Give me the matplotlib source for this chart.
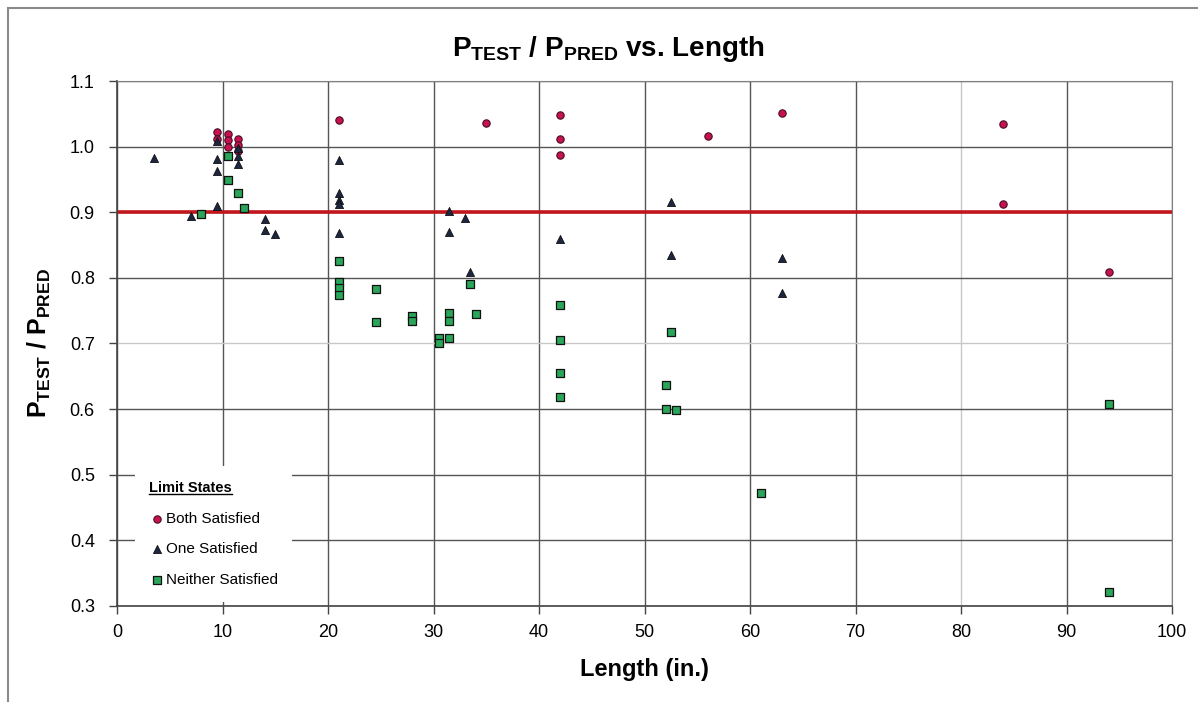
import matplotlib
matplotlib.use("Agg")
import matplotlib.pyplot as plt
from matplotlib.patches import Rectangle
from matplotlib.lines import Line2D

plt.rcParams['font.family'] = ['Liberation Sans', 'DejaVu Sans']
plt.rcParams['mathtext.fontset'] = 'custom'
plt.rcParams['mathtext.rm'] = 'Liberation Sans'
plt.rcParams['mathtext.bf'] = 'Liberation Sans:bold'

# Both limit states satisfied
both_x = [9.5, 9.5, 10.5, 10.5, 10.5, 11.5, 11.5, 11.5, 21, 35, 42, 42, 42, 56, 63, 84, 84, 94]
both_y = [1.022, 1.012, 1.020, 1.010, 1.000, 1.012, 1.003, 0.994, 1.040, 1.036,
          1.048, 1.012, 0.988, 1.016, 1.051, 1.035, 0.913, 0.809]

# One limit state satisfied
one_x = [3.5, 7.0, 9.5, 9.5, 9.5, 9.5, 11.5, 11.5, 11.5, 14, 14, 15,
         21, 21, 21, 21, 21, 31.5, 31.5, 33, 33.5, 42, 52.5, 52.5, 63, 63]
one_y = [0.982, 0.895, 1.008, 0.981, 0.963, 0.909, 0.998, 0.985, 0.974, 0.890, 0.873, 0.867,
         0.979, 0.930, 0.919, 0.913, 0.868, 0.902, 0.870, 0.891, 0.809, 0.859, 0.916, 0.835,
         0.830, 0.777]

# Neither limit state satisfied
none_x = [8.0, 10.5, 10.5, 11.5, 12.0, 21, 21, 21, 21, 24.5, 24.5, 28, 28, 30.5, 30.5,
          31.5, 31.5, 31.5, 33.5, 34, 42, 42, 42, 42, 52, 52, 52.5, 53, 61, 94, 94]
none_y = [0.897, 0.985, 0.949, 0.929, 0.907, 0.826, 0.794, 0.784, 0.774, 0.783, 0.733,
          0.742, 0.735, 0.708, 0.701, 0.747, 0.734, 0.709, 0.791, 0.745, 0.758, 0.705,
          0.655, 0.619, 0.636, 0.600, 0.718, 0.599, 0.472, 0.608, 0.322]

limit = 0.9
x_ticks = list(range(0, 101, 10))
y_ticks = [0.3, 0.4, 0.5, 0.6, 0.7, 0.8, 0.9, 1.0, 1.1]

fig = plt.figure(figsize=(11.98, 7.02), dpi=100)
ax = fig.add_axes([0.0977, 0.1368, 0.8806, 0.7478])

ax.set_xlim(0, 100)
ax.set_ylim(0.3, 1.1)
ax.set_xticks(x_ticks)
ax.set_yticks(y_ticks)
ax.set_yticklabels([f"{v:.1f}" for v in y_ticks])
ax.tick_params(axis='both', labelsize=13, direction='out', length=6, width=1, color='#444444')
ax.tick_params(axis='y', pad=10)
ax.tick_params(axis='x', pad=7)

ax.grid(True, color='#555555', linewidth=1.0, zorder=0)
ax.set_axisbelow(True)
for v, gl in zip(x_ticks, ax.get_xgridlines()):
    if v == 80:
        gl.set_color('#c8c8c8')
for v, gl in zip(y_ticks, ax.get_ygridlines()):
    if abs(v - 0.7) < 1e-9:
        gl.set_color('#c8c8c8')

for side in ['top', 'right']:
    ax.spines[side].set_color('#808080')
for side in ['left', 'bottom']:
    ax.spines[side].set_color('#444444')
    ax.spines[side].set_linewidth(1.2)

ax.axhline(limit, color='#c0161c', linewidth=2.6, zorder=2)

ax.scatter(both_x, both_y, marker='o', s=28, facecolor='#c8124e', edgecolor='#4a0a28',
           linewidth=0.8, zorder=4, label='Both Satisfied')
ax.scatter(one_x, one_y, marker='^', s=34, facecolor='#1c2640', edgecolor='#111111',
           linewidth=0.6, zorder=4, label='One Satisfied')
ax.scatter(none_x, none_y, marker='s', s=30, facecolor='#2aa55a', edgecolor='#111111',
           linewidth=0.9, zorder=4, label='Neither Satisfied')

fig.text(0.508, 0.930, r'$\mathbf{P_{TEST}}$ / $\mathbf{P_{PRED}}$ vs. Length',
         fontsize=20, fontweight='bold', ha='center', va='center')
ax.set_xlabel('Length (in.)', fontsize=17, fontweight='bold', labelpad=12)
ax.set_ylabel(r'$\mathbf{P_{TEST}}$ / $\mathbf{P_{PRED}}$', fontsize=18,
              fontweight='bold', labelpad=12)

leg = ax.legend(loc='lower left', bbox_to_anchor=(0.017, 0.008), fontsize=11,
                title='Limit States', title_fontproperties={'weight': 'bold', 'size': 10.5},
                alignment='left', frameon=True, framealpha=1, facecolor='white',
                edgecolor='none', fancybox=False, handletextpad=0.05, handlelength=1.0,
                labelspacing=1.1, borderpad=0.95, borderaxespad=0)
leg.set_zorder(6)

# underline legend title
fig.canvas.draw()
tb = leg.get_title().get_window_extent()
inv = fig.transFigure.inverted()
(x0, y0), (x1, _) = inv.transform([[tb.x0, tb.y0], [tb.x1, tb.y0]])
fig.add_artist(Line2D([x0, x1], [y0 + 0.001, y0 + 0.001], color='black', linewidth=1.0,
                      transform=fig.transFigure, zorder=10))

# chart area border
fig.add_artist(Rectangle((8 / 1198, -0.1), 2, 1 - 8 / 702 + 0.1, transform=fig.transFigure,
                         fill=False, edgecolor='#8a8a8a', linewidth=1.5))

fig.savefig('out.png', dpi=100)
